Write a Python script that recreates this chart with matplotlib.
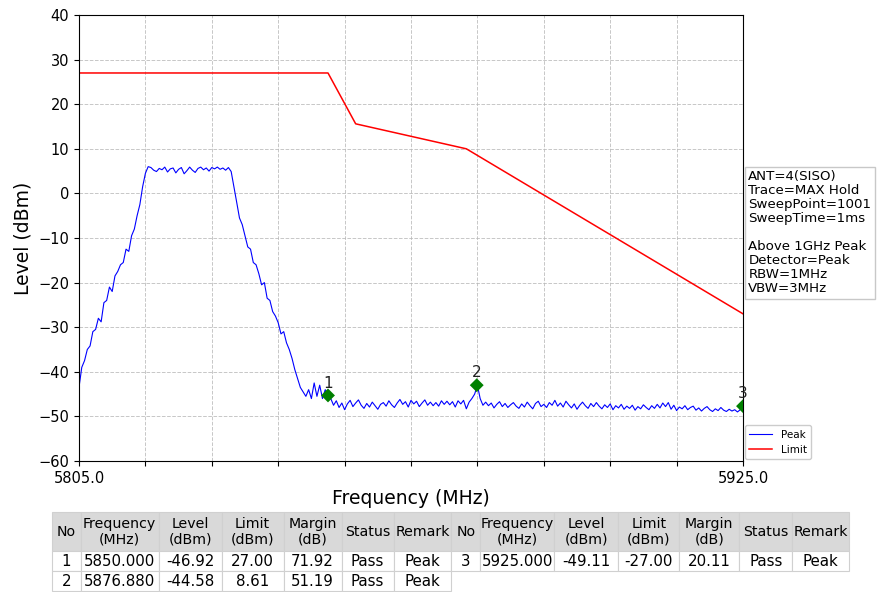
"""
Band-edge emission plot: peak trace vs. limit mask, with marker table below.
"""

import matplotlib
matplotlib.use("Agg")
import matplotlib.pyplot as plt
import numpy as np

matplotlib.rcParams.update({
    "font.family": "DejaVu Sans",
    "font.size":   10,
})

# ---------------------------------------------------------------------------
# Data
# ---------------------------------------------------------------------------
F_START, F_STOP = 5805.0, 5925.0

# peak trace, one value every 0.5 MHz from 5805.0 to 5925.0
PEAK_LEVEL = [
    -43.5, -39.0, -37.5, -35.0, -34.2, -31.0, -30.5, -28.0, -28.8, -24.5,
    -24.0, -21.0, -22.0, -18.5, -17.5, -16.0, -15.5, -12.5, -13.0, -9.5,
    -8.0, -5.0, -2.5, 1.5, 4.5, 6.0, 5.8, 5.2, 4.9, 5.6,
    5.3, 5.9, 4.8, 5.5, 5.7, 4.6, 5.4, 5.8, 4.4, 5.1,
    5.9, 5.2, 4.7, 5.6, 5.9, 5.3, 5.7, 5.0, 5.8, 5.5,
    5.9, 5.4, 5.7, 5.2, 5.8, 4.9, 1.5, -2.0, -5.5, -7.0,
    -9.5, -12.0, -12.5, -15.5, -16.0, -18.0, -20.5, -20.0, -23.5, -24.0,
    -26.5, -27.5, -29.0, -31.5, -31.0, -33.5, -35.0, -37.0, -39.5, -41.5,
    -43.5, -44.5, -45.5, -44.0, -46.0, -42.5, -45.5, -43.0, -46.0, -44.0,
    -45.3, -46.0, -47.5, -46.5, -48.0, -47.0, -48.5, -47.2, -46.4, -47.8,
    -47.0, -46.3, -47.5, -48.2, -47.1, -47.9, -46.8, -47.6, -48.4, -47.3,
    -46.9, -47.7, -46.5, -47.4, -48.0, -47.0, -46.2, -47.3, -46.7, -47.9,
    -46.4, -47.2, -46.6, -47.8, -47.0, -46.3, -47.5, -46.8, -47.6, -46.9,
    -47.7, -46.5, -47.3, -46.6, -47.4, -46.7, -47.9, -46.5, -47.2, -46.4,
    -48.3, -46.8, -46.0, -45.0, -43.0, -46.0, -47.5, -46.8, -47.6, -47.0,
    -48.1, -47.3, -46.7, -47.8, -47.1, -48.0, -47.4, -46.9, -47.7, -48.2,
    -47.2, -47.9, -46.8, -47.6, -48.3, -47.1, -46.6, -47.8, -47.3, -48.0,
    -46.9, -47.5, -46.4, -47.7, -47.0, -47.9, -46.6, -47.4, -48.1, -47.2,
    -48.4, -47.5, -46.8, -47.6, -48.2, -47.1, -47.8, -46.9, -47.7, -48.3,
    -47.4, -48.0, -47.2, -48.5, -47.6, -48.1, -47.3, -48.4, -47.7, -48.2,
    -47.5, -48.6, -47.8, -48.3, -47.4, -48.0, -48.5, -47.6, -48.2, -47.3,
    -48.1, -47.0, -47.8, -46.9, -48.4, -47.5, -48.7, -47.9, -48.3, -47.6,
    -48.5, -48.0, -47.7, -48.6, -48.1, -48.8, -48.2, -47.8, -48.5, -48.9,
    -48.3, -48.7, -48.0, -48.6, -48.9, -48.4, -48.8, -48.5, -49.0, -48.5,
    -47.8,
]

LIMIT_FREQ  = [5805.0, 5850.0, 5855.0, 5875.0, 5925.0]
LIMIT_LEVEL = [27.0, 27.0, 15.6, 10.0, -27.0]

MARK_NO     = ["1", "2", "3"]
MARK_FREQ   = [5850.000, 5876.880, 5925.000]
MARK_LEVEL  = [-46.92, -44.58, -49.11]
MARK_DRAWN  = [-45.3, -43.0, -47.7]   # where the diamonds sit on the plot
MARK_LIMIT  = [27.00, 8.61, -27.00]
MARK_MARGIN = [71.92, 51.19, 20.11]
MARK_STATUS = ["Pass", "Pass", "Pass"]
MARK_REMARK = ["Peak", "Peak", "Peak"]

SETTINGS = ("ANT=4(SISO)\nTrace=MAX Hold\nSweepPoint=1001\nSweepTime=1ms\n\n"
            "Above 1GHz Peak\nDetector=Peak\nRBW=1MHz\nVBW=3MHz")

HEADER = ["No", "Frequency\n(MHz)", "Level\n(dBm)", "Limit\n(dBm)",
          "Margin\n(dB)", "Status", "Remark"]

# ---------------------------------------------------------------------------
# Figure
# ---------------------------------------------------------------------------
W, H = 877, 592
fig = plt.figure(figsize=(W / 100, H / 100), dpi=100)
ax = fig.add_axes([79 / W, 1 - 461 / H, (743 - 79) / W, (461 - 15) / H])

freq = np.linspace(F_START, F_STOP, len(PEAK_LEVEL))
ax.plot(freq, PEAK_LEVEL, color="blue", lw=0.8, label="Peak")
ax.plot(LIMIT_FREQ, LIMIT_LEVEL, color="red", lw=1.1, label="Limit")

ax.scatter(MARK_FREQ, MARK_DRAWN, marker="D", s=50, color="green",
           edgecolors="none", zorder=4)
for no, f, lv in zip(MARK_NO, MARK_FREQ, MARK_DRAWN):
    ax.annotate(no, (f, lv), xytext=(0, 3.5), textcoords="offset points",
                ha="center", va="bottom", fontsize=11, color="#222222",
                annotation_clip=False)

ax.set_xlim(F_START, F_STOP)
ax.set_ylim(-60, 40)
ax.set_yticks(range(-60, 41, 10))
xt = np.arange(F_START, F_STOP + 1, 12)
ax.set_xticks(xt)
ax.set_xticklabels([f"{v:.1f}" if v in (F_START, F_STOP) else "" for v in xt])
ax.tick_params(labelsize=10.5)
ax.grid(True, ls="--", lw=0.7, color="#b8b8b8", alpha=0.8)

ax.set_ylabel("Level (dBm)", fontsize=13.5)
ax.set_xlabel("Frequency (MHz)", fontsize=13.5, labelpad=2)

ax.text(1.008, 0.652, SETTINGS, transform=ax.transAxes, ha="left", va="top",
        fontsize=9.6, linespacing=1.1,
        bbox=dict(boxstyle="square,pad=0.25", fc="white", ec="#c8c8c8"))

ax.legend(loc="lower left", bbox_to_anchor=(1.0, 0.0), fontsize=7.5,
          borderaxespad=0.2, handlelength=2.2, framealpha=1,
          edgecolor="#cccccc")

# ---------------------------------------------------------------------------
# Marker table (two markers per row side by side)
# ---------------------------------------------------------------------------
def row_cells(i):
    return [MARK_NO[i], f"{MARK_FREQ[i]:.3f}", f"{MARK_LEVEL[i]:.2f}",
            f"{MARK_LIMIT[i]:.2f}", f"{MARK_MARGIN[i]:.2f}",
            MARK_STATUS[i], MARK_REMARK[i]]

rows = [HEADER + HEADER,
        row_cells(0) + row_cells(2),
        row_cells(1) + [""] * 7]

col_w = [29, 78, 63, 62, 58, 52, 58, 29, 74, 64, 61, 60, 53, 57]
tax = fig.add_axes([51.7 / W, 1 - 591 / H, (849.3 - 51.7) / W, (591 - 512.3) / H])
tax.axis("off")
tbl = tax.table(cellText=rows, colWidths=[w / sum(col_w) for w in col_w],
                cellLoc="center", bbox=[0, 0, 1, 1])
tbl.auto_set_font_size(False)
for (r, c), cell in tbl.get_celld().items():
    cell.set_edgecolor("#d0d0d0")
    cell.set_linewidth(0.8)
    cell.set_height(39 if r == 0 else 20)
    cell.PAD = 0.02
    cell.get_text().set_fontsize(10.2 if r == 0 else 10.8)
    if r == 0:
        cell.set_facecolor("#d9d9d9")
    if r == 2 and c >= 7:
        cell.set_visible(False)

fig.savefig("out.png", dpi=100)
